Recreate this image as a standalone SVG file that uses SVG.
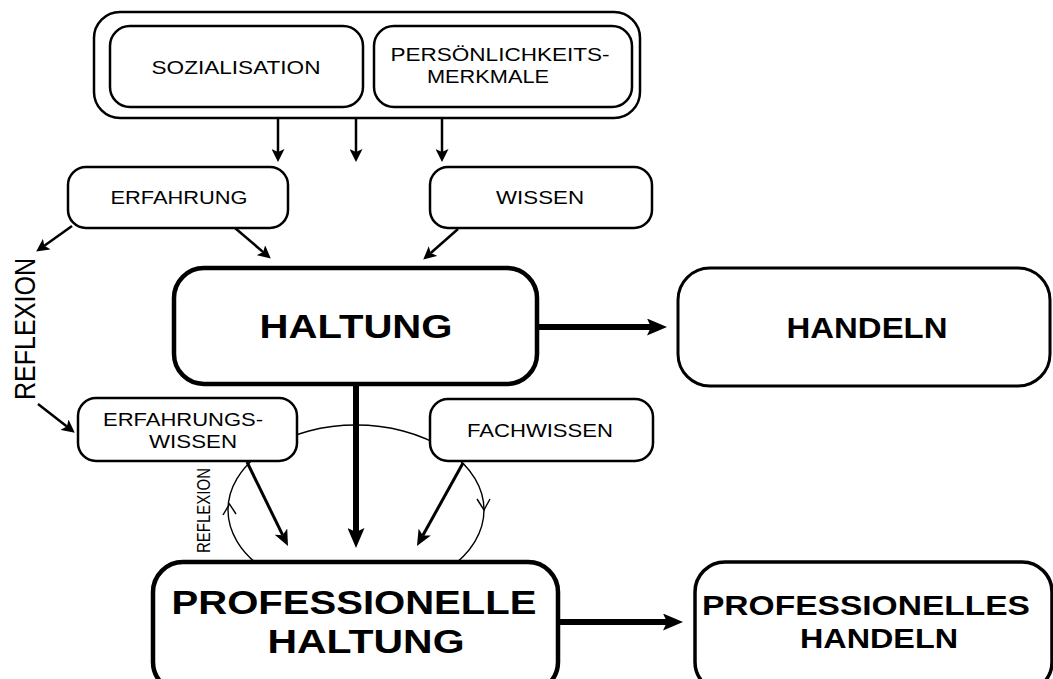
<svg xmlns="http://www.w3.org/2000/svg" width="1053" height="679" viewBox="0 0 1053 679">
<style>
.box{fill:#fff;stroke:#000;stroke-width:2.5}
.lbl{font-family:"Liberation Sans",Arial,sans-serif;font-size:19px;fill:#000;text-anchor:middle}
.big{font-family:"Liberation Sans",Arial,sans-serif;font-weight:bold;fill:#000;text-anchor:middle}
.thin{fill:none;stroke:#000;stroke-width:2.5}
.mid{fill:none;stroke:#000;stroke-width:3}
.thick{fill:none;stroke:#000;stroke-width:6}
.arc{fill:none;stroke:#000;stroke-width:1.4}
</style>
<defs>
<marker id="ah" viewBox="0 0 13 13" markerWidth="13" markerHeight="13" refX="3" refY="6.5" orient="auto" markerUnits="userSpaceOnUse"><path d="M0,0 L13,6.5 L0,13 L3,6.5 z" fill="#000"/></marker>
<marker id="ahm" viewBox="0 0 16 14" markerWidth="16" markerHeight="14" refX="4" refY="7" orient="auto" markerUnits="userSpaceOnUse"><path d="M0,0 L16,7 L0,14 L4,7 z" fill="#000"/></marker>
<marker id="aht" viewBox="0 0 20 17" markerWidth="20" markerHeight="17" refX="4" refY="8.5" orient="auto" markerUnits="userSpaceOnUse"><path d="M0,0 L20,8.5 L0,17 L4,8.5 z" fill="#000"/></marker>
</defs>
<rect width="1053" height="679" fill="#fff"/>
<g id="connectors">
<ellipse class="arc" cx="356" cy="510" rx="128" ry="85"/>
<path class="arc" d="M223,515 L229.5,504 L236,514"/>
<path class="arc" d="M477,499 L484,510 L490,499"/>
<line class="thin" x1="278" y1="118" x2="278" y2="152" marker-end="url(#ah)"/>
<line class="thin" x1="356" y1="118" x2="356" y2="152" marker-end="url(#ah)"/>
<line class="thin" x1="442" y1="118" x2="442" y2="152" marker-end="url(#ah)"/>
<line class="thin" x1="72" y1="226" x2="44.3" y2="245.8" marker-end="url(#ah)"/>
<line class="thin" x1="235" y1="228" x2="263.2" y2="252.1" marker-end="url(#ah)"/>
<line class="thin" x1="458" y1="229" x2="430.75" y2="253" marker-end="url(#ah)"/>
<line class="thin" x1="38" y1="404" x2="66.9" y2="426.5" marker-end="url(#ah)"/>
<line class="mid" x1="247" y1="462" x2="282.7" y2="535.2" marker-end="url(#ahm)"/>
<line class="mid" x1="463" y1="463" x2="422.8" y2="535.5" marker-end="url(#ahm)"/>
<line class="thick" x1="537" y1="327" x2="651" y2="327" marker-end="url(#aht)"/>
<line class="thick" x1="356" y1="384" x2="356" y2="532" marker-end="url(#aht)"/>
<line class="thick" x1="558" y1="622" x2="667" y2="622" marker-end="url(#aht)"/>
</g>
<g id="reflexion-label">
<text class="lbl" style="font-size:25px;text-anchor:start" transform="translate(35,400) scale(1.2,1) rotate(-90)" textLength="142" lengthAdjust="spacingAndGlyphs">REFLEXION</text>
</g>
<g id="reflexion-small">
<text class="lbl" style="font-size:15px;text-anchor:start" transform="translate(210,553) scale(1.2,1) rotate(-90)" textLength="85" lengthAdjust="spacingAndGlyphs">REFLEXION</text>
</g>
<g id="herkunft">
<rect class="box" x="94" y="12" width="546" height="106" rx="26"/>
</g>
<g id="sozialisation">
<rect class="box" x="110" y="26" width="253" height="81" rx="20"/>
<text class="lbl" x="236" y="74" textLength="169" lengthAdjust="spacingAndGlyphs">SOZIALISATION</text>
</g>
<g id="persoenlichkeit">
<rect class="box" x="374" y="26" width="258" height="81" rx="20"/>
<text class="lbl" x="500" y="61" textLength="219" lengthAdjust="spacingAndGlyphs">PERSÖNLICHKEITS-</text>
<text class="lbl" x="488" y="83" textLength="122" lengthAdjust="spacingAndGlyphs">MERKMALE</text>
</g>
<g id="erfahrung">
<rect class="box" x="68" y="167" width="220" height="61" rx="18"/>
<text class="lbl" x="179" y="204" textLength="137" lengthAdjust="spacingAndGlyphs">ERFAHRUNG</text>
</g>
<g id="wissen">
<rect class="box" x="430" y="167" width="222" height="61" rx="18"/>
<text class="lbl" x="540" y="204" textLength="88" lengthAdjust="spacingAndGlyphs">WISSEN</text>
</g>
<g id="haltung">
<rect class="box" style="stroke-width:4.5" x="174" y="268" width="363" height="116" rx="30"/>
<text class="big" style="font-size:34px" x="356" y="338" textLength="193" lengthAdjust="spacingAndGlyphs">HALTUNG</text>
</g>
<g id="handeln">
<rect class="box" style="stroke-width:3" x="678" y="268" width="372" height="118" rx="32"/>
<text class="big" style="font-size:29px" x="867" y="338" textLength="161" lengthAdjust="spacingAndGlyphs">HANDELN</text>
</g>
<g id="erfahrungswissen">
<rect class="box" x="78" y="398" width="219" height="63" rx="18"/>
<text class="lbl" x="183" y="426" textLength="160" lengthAdjust="spacingAndGlyphs">ERFAHRUNGS-</text>
<text class="lbl" x="193" y="448" textLength="88" lengthAdjust="spacingAndGlyphs">WISSEN</text>
</g>
<g id="fachwissen">
<rect class="box" x="430" y="399" width="223" height="62" rx="18"/>
<text class="lbl" x="540" y="437" textLength="146" lengthAdjust="spacingAndGlyphs">FACHWISSEN</text>
</g>
<g id="professionelle-haltung">
<rect class="box" style="stroke-width:4.5" x="153" y="562" width="405" height="130" rx="30"/>
<text class="big" style="font-size:33px" x="354" y="614" textLength="365" lengthAdjust="spacingAndGlyphs">PROFESSIONELLE</text>
<text class="big" style="font-size:33px" x="366" y="653" textLength="197" lengthAdjust="spacingAndGlyphs">HALTUNG</text>
</g>
<g id="professionelles-handeln">
<rect class="box" style="stroke-width:3.5" x="695" y="562" width="357" height="130" rx="30"/>
<text class="big" style="font-size:28px" x="866" y="615" textLength="328" lengthAdjust="spacingAndGlyphs">PROFESSIONELLES</text>
<text class="big" style="font-size:28px" x="879" y="648" textLength="158" lengthAdjust="spacingAndGlyphs">HANDELN</text>
</g>
</svg>
